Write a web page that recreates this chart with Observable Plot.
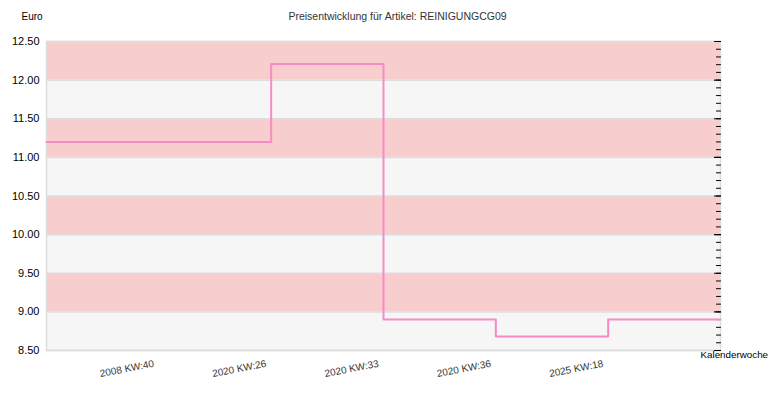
<!DOCTYPE html>
<html>
<head>
<meta charset="utf-8">
<script src="https://cdn.jsdelivr.net/npm/d3@7"></script>
<script src="https://cdn.jsdelivr.net/npm/@observablehq/plot@0.6"></script>
<style>
  body { margin: 0; background: #fff; }
  svg { font-family: "Liberation Sans", Arial, sans-serif; }
</style>
</head>
<body>
<div id="chart"></div>
<script>
// Data
const weekLabels = ["2008 KW:40", "2020 KW:26", "2020 KW:33", "2020 KW:36", "2025 KW:18"];
const positions = [0, 1, 2, 3, 4, 5, 6];
const prices = [11.2, 11.2, 12.21, 8.9, 8.68, 8.9, 8.9];
const yTicks = [8.5, 9.0, 9.5, 10.0, 10.5, 11.0, 11.5, 12.0, 12.5];
const minorTicks = [8.5,8.6,8.7,8.8,8.9,9.0,9.1,9.2,9.3,9.4,9.5,9.6,9.7,9.8,9.9,10.0,10.1,10.2,10.3,10.4,10.5,10.6,10.7,10.8,10.9,11.0,11.1,11.2,11.3,11.4,11.5,11.6,11.7,11.8,11.9,12.0,12.1,12.2,12.3,12.4,12.5];
const title = "Preisentwicklung für Artikel: REINIGUNGCG09";

const series = positions.map((p, i) => ({x: p, y: prices[i]}));
const bands = yTicks.slice(0, -1).map((lo, i) => ({y1: lo, y2: yTicks[i + 1], band: i % 2}));
const tickShape = {draw(context, l) { context.moveTo(0, 0); context.lineTo(0, -l); }};

const chart = Plot.plot({
  width: 770,
  height: 400,
  marginLeft: 46,
  marginRight: 50,
  marginTop: 41,
  marginBottom: 50,
  style: {fontFamily: "Liberation Sans, Arial, sans-serif", color: "#000", background: "#fff"},
  x: {domain: [0, 6], axis: null},
  y: {domain: [8.5, 12.5], axis: null},
  color: {domain: [0, 1], range: ["#f6f6f6", "#f8cdcd"]},
  marks: [
    Plot.rectY(bands, {y1: "y1", y2: "y2", fill: "band"}),
    Plot.ruleY(yTicks, {stroke: "#dddddd", strokeWidth: 1.5}),
    Plot.frame({stroke: "#dddddd", strokeWidth: 1.5}),
    Plot.axisY({anchor: "left", ticks: yTicks, tickFormat: d3.format(".2f"), tickSize: 0, tickPadding: 7, fontSize: 11, fill: "#000", label: null}),
    Plot.vector(minorTicks, {y: d => d, frameAnchor: "right", length: 4, rotate: -90, anchor: "start", shape: tickShape, stroke: "#000", strokeWidth: 1}),
    Plot.vector(yTicks, {y: d => d, frameAnchor: "right", length: 6, rotate: -90, anchor: "start", shape: tickShape, stroke: "#000", strokeWidth: 1.2}),
    Plot.axisX({ticks: [1, 2, 3, 4, 5], tickFormat: i => weekLabels[i - 1], tickSize: 0, tickPadding: 13, tickRotate: -11, dx: -5, fontSize: 10, fill: "#333", label: null}),
    Plot.line(series, {x: "x", y: "y", curve: "step-after", stroke: "#f58cc4", strokeWidth: 2}),
    Plot.text([title], {frameAnchor: "top", dx: 14, dy: -29, fontSize: 10.5, fill: "#333"}),
    Plot.text(["Euro"], {frameAnchor: "top-left", textAnchor: "start", dx: -25, dy: -29, fontSize: 10, fill: "#000"}),
    Plot.text(["Kalenderwoche"], {frameAnchor: "bottom-right", textAnchor: "start", dx: -20, dy: 7, fontSize: 9.8, fill: "#000"})
  ]
});
document.getElementById("chart").appendChild(chart);
</script>
</body>
</html>
